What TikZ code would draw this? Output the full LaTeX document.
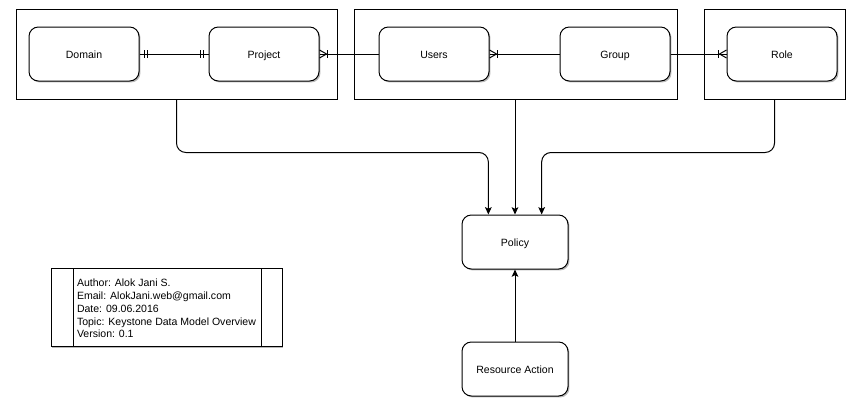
\documentclass[tikz,border=0pt]{standalone}
\usepackage{fontspec}
\setmainfont{Liberation Sans}
\usepackage{tikz}
\usetikzlibrary{arrows.meta, positioning, shadows}
\tikzset{
  shade/.style={drop shadow={shadow xshift=1.1pt, shadow yshift=-1.1pt, fill=black!28, opacity=1}},
  frame/.style={draw, fill=white, shade, minimum height=67.5pt},
  ent/.style={draw, fill=white, shade, rounded corners=7pt, minimum width=82.5pt, minimum height=40.5pt,
    text height=1.6ex, text depth=0.4ex, font=\fontsize{7.9pt}{9.6pt}\selectfont},
  rel/.style={draw},
  arr/.style={->, rounded corners=7pt}
}

\begin{document}
\begin{tikzpicture}[x=0.75pt, y=-0.75pt, line width=0.75pt, >={Stealth[length=5.5pt, width=5pt, inset=1.2pt]}]
        \useasboundingbox (0,0) rectangle (862,407);

        % Group frames
        \node[frame, minimum width=240.75pt] (grpA) at (176.5,54) {};
        \node[frame, minimum width=242.25pt] (grpB) at (515.5,54) {};
        \node[frame, minimum width=105.75pt] (grpC) at (774.5,54) {};

        % Nodes
        \node[ent] (domain) at (84,54) {Domain};
        \node[ent] (project) at (264,54) {Project};
        \node[ent] (users) at (434,54) {Users};
        \node[ent] (group) at (615,54) {Group};
        \node[ent] (role) at (782,54) {Role};
        \node[ent, minimum width=79.5pt] (policy) at (515,242) {Policy};
        \node[ent, minimum width=79.5pt] (action) at (515,369) {Resource Action};

        % Relations
        \draw[rel] (domain) -- (project);
        \draw (domain.east) ++(5,-4) -- ++(0,8);
        \draw (domain.east) ++(8,-4) -- ++(0,8);
        \draw (project.west) ++(-5,-4) -- ++(0,8);
        \draw (project.west) ++(-8,-4) -- ++(0,8);

        \draw[rel] (project) -- (users);
        \draw (project.east) ++(0,-4) -- ++(7,4) -- ++(-7,4);
        \draw (project.east) ++(8,-4) -- ++(0,8);

        \draw[rel] (users) -- (group);
        \draw (users.east) ++(0,-4) -- ++(7,4) -- ++(-7,4);
        \draw (users.east) ++(8,-4) -- ++(0,8);

        \draw[rel] (group) -- (role);
        \draw (role.west) ++(0,-4) -- ++(-7,4) -- ++(7,4);
        \draw (role.west) ++(-8,-4) -- ++(0,8);

        % Links to policy
        \draw[arr] (grpA.south) -- ++(0,53) -| ([xshift=-20pt]policy.north);
        \draw[arr] (grpB.south -| policy) -- (policy.north);
        \draw[arr] (grpC.south) -- ++(0,53) -| ([xshift=20pt]policy.north);
        \draw[->] (action) -- (policy);

        % Info box
        \node[draw, fill=white, shade, minimum width=173.25pt, minimum height=58.5pt] (info) at (166.5,307.5) {};
        \draw ([xshift=17.6pt]info.north west) -- ([xshift=17.6pt]info.south west);
        \draw ([xshift=-15.75pt]info.north east) -- ([xshift=-15.75pt]info.south east);
        \node[anchor=west, align=left, inner sep=0pt, font=\fontsize{7.9pt}{9.6pt}\selectfont] (infotext) at (76.5,308.5)
          {Author: Alok Jani S.\\Email: AlokJani.web@gmail.com\\Date: 09.06.2016\\Topic: Keystone Data Model Overview\\Version: 0.1};
    \end{tikzpicture}
\end{document}
